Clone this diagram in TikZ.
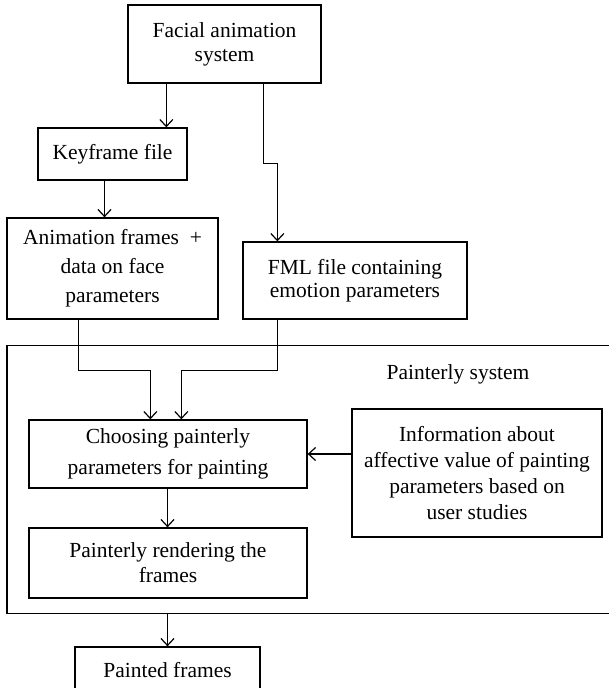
\documentclass[tikz,border=0pt]{standalone}
\usepackage{fontspec}
\setmainfont{Liberation Serif}
\usetikzlibrary{arrows.meta}

\begin{document}
\begin{tikzpicture}[x=1pt, y=-1pt]
% Define styles
\tikzstyle{block} = [rectangle, draw=black, line width=1.3pt, align=center, inner sep=0pt, font=\fontsize{21.5}{24}\selectfont]
\tikzstyle{arrow} = [line width=1.2pt, -{Straight Barb[length=7pt, width=13pt]}]

\useasboundingbox (0,0) rectangle (609,688);

% Draw nodes
\node [block, minimum width=193pt, minimum height=78pt] (facial) at (224.5,44) {Facial animation\\system};
\node [block, minimum width=149pt, minimum height=52pt] (keyframe) at (112.5,154) {Keyframe file};
\node [block, minimum width=211pt, minimum height=101pt, font=\fontsize{21.5}{29}\selectfont] (anim) at (112.5,268.5) {Animation frames\ \ +\\data on face\\parameters};
\node [block, minimum width=224pt, minimum height=77pt, font=\fontsize{21.5}{23}\selectfont] (fml) at (355,280.5) {FML file containing\\emotion parameters};

% Painterly system box
\node [block, minimum width=606pt, minimum height=268pt] (painterly) at (310,479.5) {};
\node [font=\fontsize{21.5}{24}\selectfont] (painterlylabel) at (458,374) {Painterly system};

\node [block, minimum width=278pt, minimum height=68pt, font=\fontsize{21.5}{31}\selectfont] (choosing) at (168,454) {Choosing painterly\\parameters for painting};
\node [block, minimum width=250pt, minimum height=128pt, font=\fontsize{21.5}{26}\selectfont] (info) at (477,473) {Information about\\affective value of painting\\parameters based on\\user studies};
\node [block, minimum width=278pt, minimum height=70pt, font=\fontsize{21.5}{25}\selectfont] (render) at (168,563) {Painterly rendering the\\frames};
\node [block, minimum width=185pt, minimum height=46pt] (painted) at (167.5,670) {Painted frames};

% Draw arrows
\draw [arrow] ([xshift=39pt]facial.south west) -- ([xshift=39pt]facial.south west |- keyframe.north);
\draw [arrow] ([xshift=136pt]facial.south west) -- ++(0,80) -| ([xshift=35pt]fml.north west);
\draw [arrow] ([xshift=-8pt]keyframe.south) -- ([xshift=-8pt]anim.north);
\draw [arrow] ([xshift=72pt]anim.south west) -- ++(0,51) -| ([xshift=122pt]choosing.north west);
\draw [arrow] ([xshift=35pt]fml.south west) -- ++(0,51) -| ([xshift=153pt]choosing.north west);
\draw [arrow] (choosing.east -| info.west) -- (choosing.east);
\draw [arrow] ([xshift=-0.5pt]choosing.south) -- ([xshift=-0.5pt]render.north);
\draw [arrow] (painted.north |- painterly.south) -- (painted.north);
\end{tikzpicture}
\end{document}
